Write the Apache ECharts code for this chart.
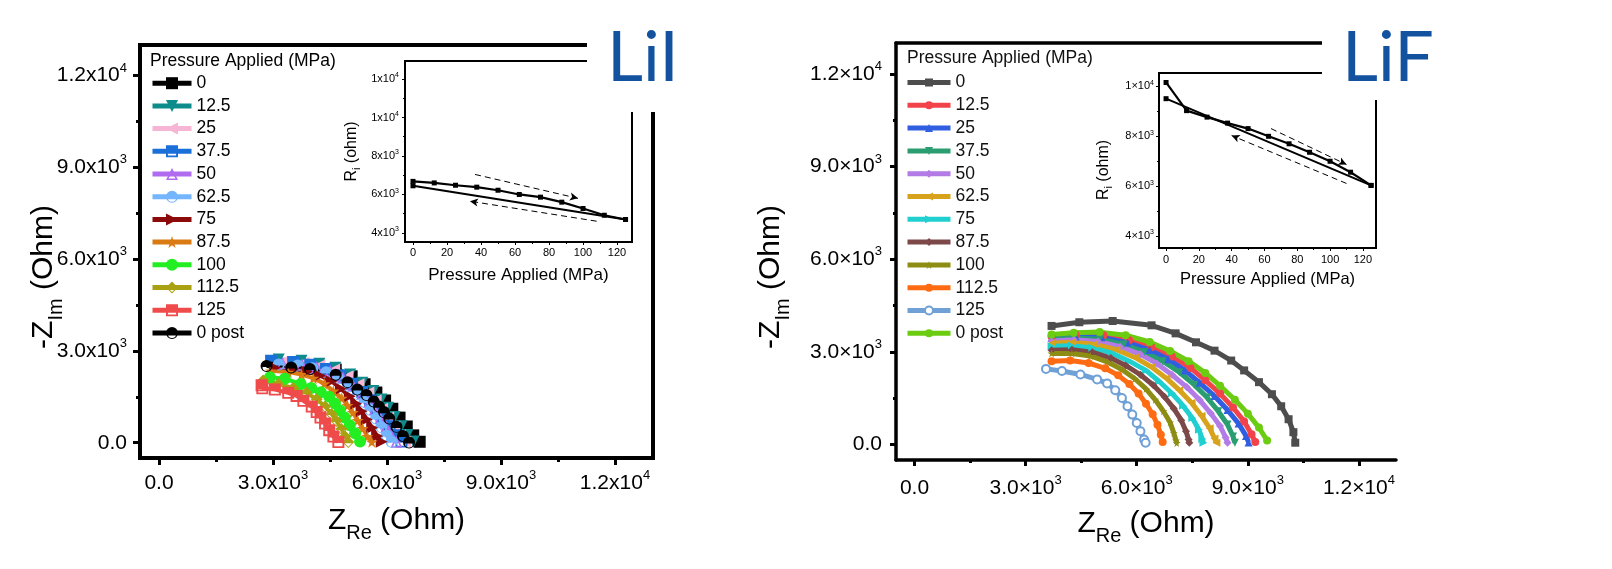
<!DOCTYPE html>
<html>
<head>
<meta charset="utf-8">
<script src="https://cdn.jsdelivr.net/npm/echarts@6/dist/echarts.min.js"></script>
<style>
  html, body { margin: 0; padding: 0; background: #fff; }
  #chart { width: 1612px; height: 569px; }
</style>
</head>
<body>
<div id="chart"></div>
<script>
const FONT = '"Liberation Sans", Arial, sans-serif';

// Pressure steps (MPa), one legend entry per Nyquist arc
const pressureLabels = ['0', '12.5', '25', '37.5', '50', '62.5', '75', '87.5', '100', '112.5', '125', '0 post'];

// ---- LiI Nyquist arcs: [Z_Re, -Z_Im] in ohm ----
const liI_0      = [[3050,2650],[3700,2610],[4190,2520],[4650,2390],[5070,2170],[5410,1910],[5720,1640],[5950,1380],[6140,1110],[6330,820],[6520,530],[6690,240],[6860,30]];
const liI_12_5   = [[3150,2720],[3750,2680],[4220,2580],[4640,2450],[5030,2230],[5350,1960],[5640,1690],[5850,1410],[6030,1140],[6200,840],[6380,540],[6540,250],[6700,40]];
const liI_25     = [[3250,2650],[3800,2610],[4220,2520],[4610,2390],[4960,2170],[5250,1910],[5510,1640],[5700,1380],[5870,1110],[6030,820],[6190,530],[6340,240],[6480,30]];
const liI_37_5   = [[2950,2680],[3530,2640],[3980,2550],[4390,2410],[4770,2200],[5080,1930],[5350,1660],[5560,1390],[5730,1120],[5900,830],[6070,540],[6230,240],[6380,40]];
const liI_50     = [[3250,2600],[3760,2560],[4150,2470],[4510,2340],[4840,2130],[5110,1870],[5350,1610],[5530,1350],[5680,1090],[5830,810],[5980,520],[6120,230],[6250,30]];
const liI_62_5   = [[3150,2560],[3650,2520],[4040,2430],[4400,2300],[4720,2100],[4990,1840],[5230,1590],[5410,1330],[5560,1080],[5710,790],[5850,510],[5990,230],[6120,30]];
const liI_75     = [[3050,2450],[3530,2410],[3890,2330],[4230,2200],[4540,2010],[4790,1760],[5020,1520],[5190,1270],[5330,1030],[5470,760],[5610,490],[5740,220],[5860,30]];
const liI_87_5   = [[2950,2350],[3400,2310],[3750,2230],[4060,2110],[4350,1930],[4590,1690],[4810,1460],[4960,1220],[5100,990],[5230,730],[5360,470],[5480,210],[5600,30]];
const liI_100    = [[2920,2140],[3310,2090],[3730,1920],[4010,1790],[4260,1650],[4480,1500],[4630,1280],[4760,1050],[4890,820],[5020,570],[5160,310],[5290,40]];
const liI_112_5  = [[2740,2030],[3140,1920],[3530,1790],[3880,1630],[4150,1420],[4370,1180],[4540,940],[4670,710],[4800,450],[4900,200],[4980,20]];
const liI_125    = [[2700,1880],[2720,1780],[3050,1740],[3400,1630],[3620,1530],[3800,1370],[4020,1180],[4150,1000],[4250,820],[4370,630],[4480,410],[4590,200],[4720,20]];
const liI_0post  = [[2830,2510],[3480,2460],[3970,2410],[4650,2220],[4960,1980],[5220,1740],[5460,1560],[5650,1350],[5790,1180],[5920,1000],[6060,790],[6250,520],[6420,220],[6580,10]];

// ---- LiF Nyquist arcs: [Z_Re, -Z_Im] in ohm ----
const liF_0      = [[3700,3840],[4450,3960],[5350,4000],[6400,3860],[7050,3600],[7600,3310],[8100,3040],[8550,2720],[8900,2400],[9300,2020],[9650,1630],[9900,1240],[10100,820],[10230,400],[10280,60]];
const liF_12_5   = [[3700,3500],[4350,3560],[5100,3540],[5800,3380],[6400,3150],[6950,2850],[7450,2480],[7850,2080],[8250,1650],[8600,1200],[8900,750],[9100,330],[9200,80]];
const liF_25     = [[3700,3450],[4350,3500],[5050,3470],[5750,3300],[6350,3060],[6850,2760],[7300,2400],[7700,2000],[8100,1570],[8450,1120],[8750,680],[8950,280],[9020,70]];
const liF_37_5   = [[3700,3400],[4300,3450],[5000,3410],[5650,3240],[6200,3000],[6700,2700],[7150,2340],[7550,1940],[7900,1520],[8200,1080],[8450,650],[8600,260],[8650,60]];
const liF_50     = [[3700,3350],[4300,3390],[4950,3340],[5550,3170],[6100,2920],[6550,2620],[6950,2260],[7350,1860],[7700,1440],[8000,1010],[8250,600],[8400,230],[8450,60]];
const liF_62_5   = [[3700,3280],[4250,3310],[4850,3250],[5450,3070],[5950,2820],[6400,2510],[6800,2150],[7150,1760],[7480,1350],[7750,930],[7970,530],[8100,200],[8150,60]];
const liF_75     = [[3700,3180],[4250,3200],[4800,3130],[5350,2950],[5800,2700],[6250,2400],[6600,2050],[6950,1660],[7250,1260],[7500,860],[7680,480],[7770,180],[7800,60]];
const liF_87_5   = [[3700,3050],[4250,3070],[4800,2990],[5300,2800],[5700,2560],[6100,2260],[6450,1920],[6750,1550],[7000,1170],[7200,790],[7330,430],[7400,160],[7420,60]];
const liF_100    = [[3700,2950],[4250,2950],[4750,2870],[5200,2680],[5600,2430],[5950,2130],[6250,1800],[6500,1450],[6720,1080],[6900,720],[7000,380],[7060,130],[7080,50]];
const liF_112_5  = [[3700,2700],[4200,2720],[4700,2640],[5150,2470],[5500,2240],[5800,1960],[6050,1650],[6250,1320],[6430,980],[6560,640],[6650,320],[6700,80]];
const liF_125    = [[3550,2450],[3980,2380],[4480,2270],[4930,2110],[5200,1980],[5420,1760],[5600,1510],[5750,1240],[5880,970],[6000,700],[6100,430],[6200,160],[6240,60]];
const liF_0post  = [[3700,3560],[4300,3620],[5000,3640],[5700,3540],[6350,3320],[6900,3030],[7400,2700],[7850,2320],[8250,1900],[8650,1450],[9000,1000],[9300,550],[9520,130]];

// ---- Inset: interfacial resistance vs applied pressure ----
const insetPressure = [0, 12.5, 25, 37.5, 50, 62.5, 75, 87.5, 100, 112.5, 125];
const liiRiLoading  = [6680, 6600, 6480, 6380, 6220, 6000, 5860, 5600, 5270, 4920, 4700];
const liiReturnP    = [125, 0];
const liiRiReturn   = [4700, 6450];
const lifRiLoading  = [10160, 9030, 8770, 8530, 8310, 8000, 7700, 7360, 7000, 6560, 6030];
const lifReturnP    = [125, 0];
const lifRiReturn   = [6030, 9510];
// dashed guide arrows [pressure, R_i] from -> to
const liiArrowLoad   = [[36.5, 7040], [97, 5800]];
const liiArrowUnload = [[108, 4610], [33.5, 5650]];
const lifArrowLoad   = [[64, 8310], [110, 6870]];
const lifArrowUnload = [[110, 6110], [40, 8030]];

// ---- Tick values and labels ----
const mainTicks      = [0, 3000, 6000, 9000, 12000];
const mainMinorTicks = [1500, 4500, 7500, 10500];
const liiMainLabels  = ['0.0', '3.0x10{s|3}', '6.0x10{s|3}', '9.0x10{s|3}', '1.2x10{s|4}'];
const lifMainLabels  = ['0.0', '3.0×10{s|3}', '6.0×10{s|3}', '9.0×10{s|3}', '1.2×10{s|4}'];
const insetPTicks    = [0, 20, 40, 60, 80, 100, 120];
const insetPLabels   = ['0', '20', '40', '60', '80', '100', '120'];
const insetPMinor    = [10, 30, 50, 70, 90, 110];
const liiInsetTicks  = [4000, 6000, 8000, 10000, 12000];
const liiInsetLabels = ['4x10{s|3}', '6x10{s|3}', '8x10{s|3}', '1x10{s|4}', '1x10{s|4}'];
const liiInsetMinor  = [5000, 7000, 9000, 11000];
const lifInsetTicks  = [4000, 6000, 8000, 10000];
const lifInsetLabels = ['4×10{s|3}', '6×10{s|3}', '8×10{s|3}', '1×10{s|4}'];
const lifInsetMinor  = [5000, 7000, 9000];

// ---- Marker shapes (lower part left open) ----
const HALF_SQUARE   = 'path://M0,0 L10,0 L10,10 L0,10 Z M1.6,5.8 L1.6,8.5 L8.4,8.5 L8.4,5.8 Z';
const HALF_CIRCLE   = 'path://M0,5 A5,5 0 1,1 10,5 A5,5 0 1,1 0,5 Z M8.4,5.9 L1.6,5.9 A3.4,3.4 0 0,0 8.4,5.9 Z';
const HALF_TRIANGLE = 'path://M5,0 L10,10 L0,10 Z M3.6,6 L2.1,8.7 L7.9,8.7 L6.4,6 Z';
const HALF_DIAMOND  = 'path://M5,0 L10,5 L5,10 L0,5 Z M8.0,5.9 L2.0,5.9 L5,8.8 Z';
const STAR          = 'path://M50,0 L61,35 L98,35 L68,57 L79,91 L50,70 L21,91 L32,57 L2,35 L39,35 Z';

const liiCurves    = [liI_0, liI_12_5, liI_25, liI_37_5, liI_50, liI_62_5, liI_75, liI_87_5, liI_100, liI_112_5, liI_125, liI_0post];
const liiColors    = ['#000000', '#0e8c8c', '#f6b5d5', '#1b6fd8', '#b06cf0', '#74b5ff', '#8c0a0a', '#da7a12', '#22ee22', '#a9a111', '#f04b4b', '#000000'];
const liiSymbols   = ['rect', 'triangle', 'triangle', HALF_SQUARE, HALF_TRIANGLE, HALF_CIRCLE, 'triangle', STAR, 'circle', HALF_DIAMOND, HALF_SQUARE, HALF_CIRCLE];
const liiRotations = [0, 180, 90, 0, 0, 0, -90, 0, 0, 0, 0, 0];

const lifCurves    = [liF_0, liF_12_5, liF_25, liF_37_5, liF_50, liF_62_5, liF_75, liF_87_5, liF_100, liF_112_5, liF_125, liF_0post];
const lifColors    = ['#4d4d4d', '#f2434b', '#2f5fe0', '#2a9e70', '#b27be6', '#d8a31c', '#20cfcf', '#7c4848', '#8d8d14', '#ff6b12', '#6fa0d6', '#6bcc12'];
const lifSymbols   = ['rect', 'circle', 'triangle', 'triangle', 'diamond', 'triangle', 'triangle', 'diamond', STAR, 'circle', 'emptyCircle', 'circle'];
const lifRotations = [0, 0, 0, 180, 0, 90, -90, 0, 0, 0, 0, 0];

function curveSeries(prefix, curves, colors, symbols, rotations, symbolSize, lineWidth, axisIdx) {
  return curves.map((pts, i) => ({
    name: prefix + pressureLabels[i],
    type: 'line',
    xAxisIndex: axisIdx,
    yAxisIndex: axisIdx,
    data: pts,
    symbol: symbols[i],
    symbolSize: symbolSize,
    symbolRotate: rotations[i],
    showSymbol: true,
    clip: false,
    lineStyle: { color: colors[i], width: lineWidth },
    itemStyle: { color: colors[i] },
    emphasis: { disabled: true },
    z: 3
  }));
}

function arrowMarks(load, unload) {
  return {
    silent: true,
    symbol: ['none', 'arrow'],
    symbolSize: [6, 8],
    label: { show: false },
    emphasis: { disabled: true },
    lineStyle: { color: '#000', width: 1, type: [6, 4] },
    data: [
      [{ coord: load[0] }, { coord: load[1] }],
      [{ coord: unload[0] }, { coord: unload[1] }]
    ]
  };
}

function insetSeries(axisIdx, loading, returnP, returnR, load, unload) {
  return [
    {
      type: 'line', xAxisIndex: axisIdx, yAxisIndex: axisIdx,
      data: insetPressure.map((p, i) => [p, loading[i]]),
      symbol: 'rect', symbolSize: 5, showSymbol: true,
      lineStyle: { color: '#000', width: 2.2 },
      itemStyle: { color: '#000' },
      emphasis: { disabled: true },
      markLine: arrowMarks(load, unload),
      z: 3
    },
    {
      type: 'line', xAxisIndex: axisIdx, yAxisIndex: axisIdx,
      data: returnP.map((p, i) => [p, returnR[i]]),
      symbol: 'rect', symbolSize: 5, showSymbol: true,
      lineStyle: { color: '#000', width: 2 },
      itemStyle: { color: '#000' },
      emphasis: { disabled: true },
      z: 3
    }
  ];
}

function nameStyle(size, subSize, subDrop, pad) {
  return {
    fontSize: size, fontFamily: FONT, color: '#000',
    padding: pad || 0,
    rich: { sub: { fontSize: subSize, fontFamily: FONT, color: '#000', padding: [subDrop, 0, 0, 0] } }
  };
}

function majorAxis(o) {
  return {
    type: 'value', gridIndex: o.grid, position: o.pos, min: o.min, max: o.max,
    axisLine: { show: true, onZero: false, lineStyle: { color: '#000', width: o.lw } },
    axisTick: { show: true, inside: false, length: o.tl, customValues: o.ticks, lineStyle: { color: '#000', width: o.tw } },
    axisLabel: {
      show: true, customValues: o.ticks,
      formatter: (v) => o.labels[o.ticks.indexOf(v)],
      margin: o.margin, color: '#000', fontFamily: FONT, fontSize: o.fs, lineHeight: o.lh,
      rich: { s: { fontSize: o.sfs, fontFamily: FONT, color: '#000', verticalAlign: 'top' } }
    },
    splitLine: { show: false },
    minorTick: { show: false },
    name: o.name, nameLocation: 'middle', nameGap: o.nameGap, nameTextStyle: o.nameStyle,
    nameMoveOverlap: false
  };
}

function minorAxis(grid, pos, min, max, ticks, len, w) {
  return {
    type: 'value', gridIndex: grid, position: pos, min: min, max: max,
    axisLine: { show: false, onZero: false },
    axisTick: { show: true, inside: false, length: len, customValues: ticks, lineStyle: { color: '#000', width: w } },
    axisLabel: { show: false },
    splitLine: { show: false }
  };
}

const option = {
  animation: false,
  backgroundColor: '#fff',
  grid: [
    { left: 140, top: 45, width: 513, height: 413, show: true, borderColor: '#000', borderWidth: 4, backgroundColor: 'transparent', outerBoundsMode: 'none', containLabel: false },
    { left: 405, top: 61, width: 227, height: 181, show: true, borderColor: '#000', borderWidth: 2, backgroundColor: 'transparent', outerBoundsMode: 'none', containLabel: false },
    { left: 896, top: 43, width: 500, height: 417, show: false, outerBoundsMode: 'none', containLabel: false },
    { left: 1159, top: 73, width: 217, height: 175, show: true, borderColor: '#000', borderWidth: 2, backgroundColor: 'transparent', outerBoundsMode: 'none', containLabel: false }
  ],
  xAxis: [
    majorAxis({ grid: 0, pos: 'bottom', min: -500, max: 13000, ticks: mainTicks, labels: liiMainLabels, lw: 4, tl: 7, tw: 3, margin: 11, fs: 21, lh: 28, sfs: 13,
      name: 'Z{sub|Re} (Ohm)', nameGap: 40.5, nameStyle: nameStyle(30, 20, 25) }),
    minorAxis(0, 'bottom', -500, 13000, mainMinorTicks, 4, 3),
    majorAxis({ grid: 1, pos: 'bottom', min: -4.7, max: 128.8, ticks: insetPTicks, labels: insetPLabels, lw: 2, tl: 3, tw: 1, margin: 4, fs: 11, lh: 14, sfs: 7,
      name: 'Pressure Applied (MPa)', nameGap: 24.5, nameStyle: nameStyle(17, 11, 0) }),
    minorAxis(1, 'bottom', -4.7, 128.8, insetPMinor, 2, 1),
    majorAxis({ grid: 2, pos: 'bottom', min: -500, max: 13000, ticks: mainTicks, labels: lifMainLabels, lw: 3.5, tl: 6, tw: 3, margin: 14, fs: 21, lh: 28, sfs: 13,
      name: 'Z{sub|Re} (Ohm)', nameGap: 41.5, nameStyle: nameStyle(30, 20, 25) }),
    minorAxis(2, 'bottom', -500, 13000, mainMinorTicks, 3, 3),
    majorAxis({ grid: 3, pos: 'bottom', min: -4.3, max: 128, ticks: insetPTicks, labels: insetPLabels, lw: 2, tl: 3, tw: 1, margin: 5, fs: 11, lh: 14, sfs: 7,
      name: 'Pressure Applied (MPa)', nameGap: 22.5, nameStyle: nameStyle(16.5, 11, 0) }),
    minorAxis(3, 'bottom', -4.3, 128, insetPMinor, 2, 1),
    {
      type: 'value', gridIndex: 2, position: 'top', min: -500, max: 13000,
      axisLine: { show: true, onZero: false, lineStyle: { color: '#000', width: 3.5 } },
      axisTick: { show: false }, axisLabel: { show: false }, splitLine: { show: false }
    }
  ],
  yAxis: [
    majorAxis({ grid: 0, pos: 'left', min: -500, max: 13000, ticks: mainTicks, labels: liiMainLabels, lw: 4, tl: 7, tw: 3, margin: 13, fs: 21, lh: 28, sfs: 13,
      name: '-Z{sub|Im} (Ohm)', nameGap: 73.5, nameStyle: nameStyle(30, 20, 25, [0, 51, 0, 0]) }),
    minorAxis(0, 'left', -500, 13000, mainMinorTicks, 4, 3),
    majorAxis({ grid: 1, pos: 'left', min: 3530, max: 12935, ticks: liiInsetTicks, labels: liiInsetLabels, lw: 2, tl: 3, tw: 1, margin: 6, fs: 11, lh: 14, sfs: 7,
      name: 'R{sub|i} (ohm)', nameGap: 42.5, nameStyle: nameStyle(16, 11, 10) }),
    minorAxis(1, 'left', 3530, 12935, liiInsetMinor, 2, 1),
    majorAxis({ grid: 2, pos: 'left', min: -500, max: 13000, ticks: mainTicks, labels: lifMainLabels, lw: 3.5, tl: 6, tw: 3, margin: 14, fs: 21, lh: 28, sfs: 13,
      name: '-Z{sub|Im} (Ohm)', nameGap: 103, nameStyle: nameStyle(30, 20, 25, [0, 51, 0, 0]) }),
    minorAxis(2, 'left', -500, 13000, mainMinorTicks, 3, 3),
    majorAxis({ grid: 3, pos: 'left', min: 3520, max: 10540, ticks: lifInsetTicks, labels: lifInsetLabels, lw: 2, tl: 3, tw: 1, margin: 5, fs: 11, lh: 14, sfs: 7,
      name: 'R{sub|i} (ohm)', nameGap: 44.5, nameStyle: nameStyle(16, 11, 10, [0, 19, 0, 0]) }),
    minorAxis(3, 'left', 3520, 10540, lifInsetMinor, 2, 1)
  ],
  legend: [
    {
      data: pressureLabels.map(p => 'LiI ' + p),
      formatter: (n) => n.slice(4),
      orient: 'vertical', left: 150, top: 74.2, padding: 0,
      itemWidth: 39, itemHeight: 15, itemGap: 4.7,
      selectedMode: false,
      lineStyle: { width: 5 },
      textStyle: { fontSize: 17.5, fontFamily: FONT, color: '#000' }
    },
    {
      data: pressureLabels.map(p => 'LiF ' + p),
      formatter: (n) => n.slice(4),
      orient: 'vertical', left: 905, top: 73.5, padding: 0,
      itemWidth: 43, itemHeight: 10, itemGap: 4.8,
      selectedMode: false,
      lineStyle: { width: 5 },
      textStyle: { fontSize: 17.5, fontFamily: FONT, color: '#111' }
    }
  ],
  graphic: {
    elements: [
      { type: 'text', x: 150, y: 61, z: 50,
        style: { text: 'Pressure Applied (MPa)', fontSize: 17.5, fontFamily: FONT, fill: '#000', align: 'left', verticalAlign: 'middle' } },
      { type: 'text', x: 907, y: 58, z: 50,
        style: { text: 'Pressure Applied (MPa)', fontSize: 17.5, fontFamily: FONT, fill: '#111', align: 'left', verticalAlign: 'middle' } },
      { type: 'rect', z: 100, shape: { x: 587, y: 0, width: 113, height: 112 }, style: { fill: '#fff' } },
      { type: 'text', x: 607, y: 58, z: 101,
        style: { text: 'LiI', fontSize: 70, fontFamily: 'Lato, sans-serif', fill: '#12529f', align: 'left', verticalAlign: 'middle' } },
      { type: 'rect', z: 100, shape: { x: 1322, y: 0, width: 130, height: 100 }, style: { fill: '#fff' } },
      { type: 'text', x: 1342, y: 58, z: 101,
        style: { text: 'LiF', fontSize: 70, fontFamily: 'Lato, sans-serif', fill: '#12529f', align: 'left', verticalAlign: 'middle' } }
    ]
  },
  series: [
    ...curveSeries('LiI ', liiCurves, liiColors, liiSymbols, liiRotations, 12, 4, 0),
    ...insetSeries(2, liiRiLoading, liiReturnP, liiRiReturn, liiArrowLoad, liiArrowUnload),
    ...curveSeries('LiF ', lifCurves, lifColors, lifSymbols, lifRotations, 8, 5, 4),
    ...insetSeries(6, lifRiLoading, lifReturnP, lifRiReturn, lifArrowLoad, lifArrowUnload)
  ]
};

const chart = echarts.init(document.getElementById('chart'), null, { renderer: 'canvas', width: 1612, height: 569 });
chart.setOption(option);
</script>
</body>
</html>
